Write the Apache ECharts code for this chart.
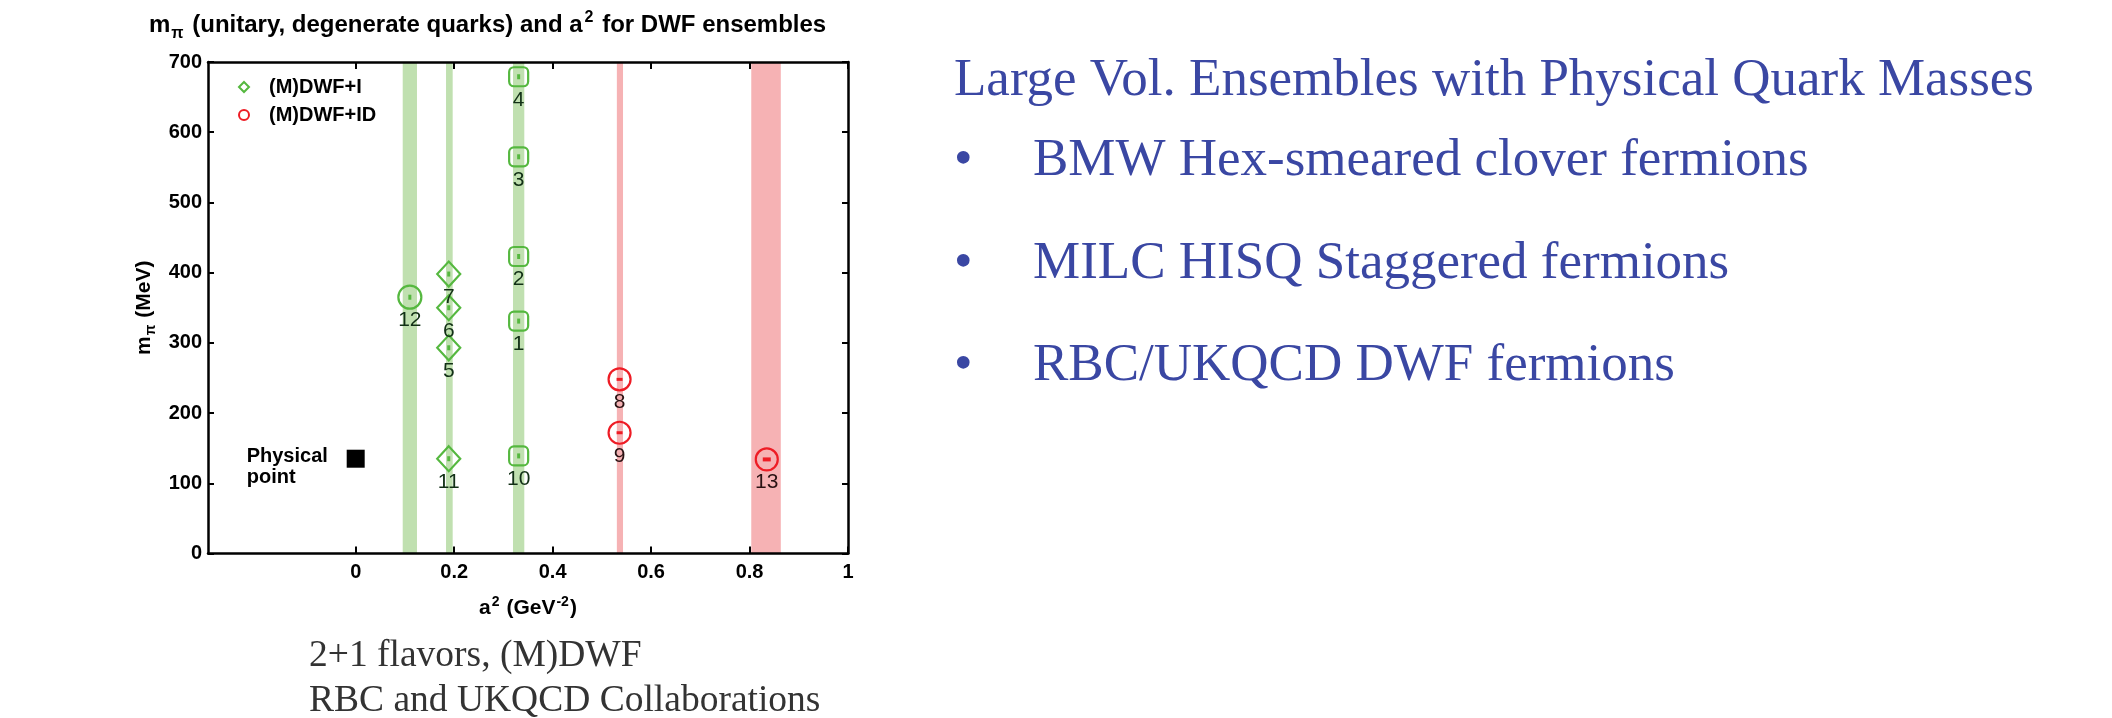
<!DOCTYPE html>
<html><head><meta charset="utf-8">
<script src="https://cdn.jsdelivr.net/npm/echarts@6/dist/echarts.min.js"></script>
<style>html,body{margin:0;padding:0;background:#fff}#c{width:2112px;height:718px}</style>
</head><body><div id="c"></div>
<script>
// ---------------- data ----------------
const xTicks = [0, 0.2, 0.4, 0.6, 0.8, 1];
const yTicks = [0, 100, 200, 300, 400, 500, 600, 700];

// (M)DWF+I ensembles
const sqIds = ['1', '2', '3', '4', '10'];
const sqA2  = [0.331, 0.331, 0.331, 0.331, 0.331];
const sqMpi = [331, 423, 565, 679, 139];

const dmIds = ['5', '6', '7', '11'];
const dmA2  = [0.189, 0.189, 0.189, 0.189];
const dmMpi = [293, 350, 398, 135];

const ciIds = ['12'];
const ciA2  = [0.110];
const ciMpi = [365];

// (M)DWF+ID ensembles
const idIds = ['8', '9', '13'];
const idA2  = [0.536, 0.536, 0.835];
const idMpi = [248, 172, 134];

// physical point
const physA2  = [0];
const physMpi = [135];

// a^2 uncertainty bands
const greenBandLo = [0.0955, 0.1835, 0.3195];
const greenBandHi = [0.1245, 0.1970, 0.3425];
const redBandLo   = [0.5305, 0.8035];
const redBandHi   = [0.5430, 0.8635];

// text
const titleText = '{a|m}{s|π}{a| (unitary, degenerate quarks) and a}{p|2}{a| for DWF ensembles}';
const heading = 'Large Vol. Ensembles with Physical Quark Masses';
const bullets = ['BMW Hex-smeared clover fermions', 'MILC HISQ Staggered fermions', 'RBC/UKQCD DWF fermions'];
const caption = ['2+1 flavors, (M)DWF', 'RBC and UKQCD Collaborations'];

// ---------------- style ----------------
const SANS = '"Liberation Sans", Arial, Helvetica, sans-serif';
const SERIF = '"Liberation Serif", "Times New Roman", serif';
const G = '#55b83f', GBAND = '#c0e0b0', GTXT = '#123016';
const R = '#ee1c25', RBAND = '#f6b2b4', RTXT = '#2a1213';
const BLUE = '#3a47a3';

const zip = (xs, ys, ids) => xs.map((x, i) => [x, ys[i], ids ? ids[i] : '']);

const hollow = c => ({ color: 'rgba(0,0,0,0)', borderColor: c, borderWidth: 2.2, opacity: 1 });
const idLabel = c => ({ show: true, position: 'inside', offset: [0, 23], formatter: p => p.value[2],
  fontFamily: SANS, fontSize: 21, color: c });

const bandData = [];
greenBandLo.forEach((lo, i) => bandData.push([{ xAxis: lo, itemStyle: { color: GBAND, opacity: 1 } }, { xAxis: greenBandHi[i] }]));
redBandLo.forEach((lo, i) => bandData.push([{ xAxis: lo, itemStyle: { color: RBAND, opacity: 1 } }, { xAxis: redBandHi[i] }]));

const axisCommon = {
  type: 'value', splitLine: { show: false },
  axisLine: { show: true, onZero: false, lineStyle: { color: '#000', width: 2.5 } },
  z: 10
};

const chart = echarts.init(document.getElementById('c'), null, { renderer: 'canvas' });
chart.setOption({
  animation: false,
  backgroundColor: '#fff',
  title: {
    text: titleText, left: 149, top: 9, padding: 0,
    textStyle: { rich: {
      a: { fontFamily: SANS, fontSize: 24, fontWeight: 'bold', color: '#000' },
      s: { fontFamily: SANS, fontSize: 16, fontWeight: 'bold', color: '#000', padding: [17, 2, 0, 1] },
      p: { fontFamily: SANS, fontSize: 16, fontWeight: 'bold', color: '#000', padding: [0, 2, 15, 2] }
    } }
  },
  grid: { left: 208, right: 1264, top: 62, bottom: 164.5, containLabel: false, outerBoundsMode: 'none' },
  legend: {
    data: [{ name: '(M)DWF+I', icon: 'diamond' }, { name: '(M)DWF+ID', icon: 'circle' }],
    orient: 'vertical', left: 238, top: 77, padding: 0, itemWidth: 10, itemHeight: 10, itemGap: 8,
    selectedMode: false,
    textStyle: { fontFamily: SANS, fontWeight: 'bold', fontSize: 20, color: '#000', padding: [0, 0, 0, 15], lineHeight: 20 }
  },
  xAxis: [
    Object.assign({}, axisCommon, {
      position: 'bottom', min: -0.3, max: 1,
      axisTick: { show: true, inside: true, length: 7, lineStyle: { color: '#000', width: 2 }, customValues: xTicks },
      axisLabel: { show: true, customValues: xTicks, margin: 9, fontFamily: SANS, fontWeight: 'bold', fontSize: 20, color: '#000',
        formatter: v => String(+v.toFixed(1)) },
      name: '{a|a}{p|2}{a| (GeV}{p|-2}{a|)}', nameLocation: 'middle', nameGap: 42,
      nameTextStyle: { rich: {
        a: { fontFamily: SANS, fontSize: 21, fontWeight: 'bold', color: '#000' },
        p: { fontFamily: SANS, fontSize: 14, fontWeight: 'bold', color: '#000', padding: [0, 1, 12, 1] }
      } }
    }),
    Object.assign({}, axisCommon, {
      position: 'top', min: -0.3, max: 1,
      axisTick: { show: true, inside: true, length: 7, lineStyle: { color: '#000', width: 2 }, customValues: xTicks },
      axisLabel: { show: false }
    })
  ],
  yAxis: [
    Object.assign({}, axisCommon, {
      position: 'left', min: 0, max: 700, interval: 100,
      axisTick: { show: true, inside: true, length: 6, lineStyle: { color: '#000', width: 2 } },
      axisLabel: { show: true, margin: 6, fontFamily: SANS, fontWeight: 'bold', fontSize: 20, color: '#000' },
      name: '{a|m}{s|π}{a| (MeV)}', nameLocation: 'middle', nameRotate: 90, nameGap: 50,
      nameTextStyle: { rich: {
        a: { fontFamily: SANS, fontSize: 21, fontWeight: 'bold', color: '#000' },
        s: { fontFamily: SANS, fontSize: 14, fontWeight: 'bold', color: '#000', padding: [14, 1, 0, 1] }
      } }
    }),
    Object.assign({}, axisCommon, {
      position: 'right', min: 0, max: 700, interval: 100,
      axisTick: { show: true, inside: true, length: 6, lineStyle: { color: '#000', width: 2 } },
      axisLabel: { show: false }
    })
  ],
  series: [
    { type: 'scatter', name: 'bands', data: [], z: 1, silent: true,
      markArea: { silent: true, label: { show: false }, data: bandData } },
    { type: 'scatter', name: '(M)DWF+I', symbol: 'diamond', symbolSize: [23, 25], z: 3,
      itemStyle: hollow(G), label: idLabel(GTXT), data: zip(dmA2, dmMpi, dmIds) },
    { type: 'scatter', name: '(M)DWF+I', symbol: 'roundRect', symbolSize: 19, z: 3,
      itemStyle: hollow(G), label: idLabel(GTXT), data: zip(sqA2, sqMpi, sqIds) },
    { type: 'scatter', name: '(M)DWF+I', symbol: 'circle', symbolSize: 23, z: 3,
      itemStyle: hollow(G), label: idLabel(GTXT), data: zip(ciA2, ciMpi, ciIds) },
    { type: 'scatter', name: '(M)DWF+ID', symbol: 'circle', symbolSize: 22, z: 3,
      itemStyle: hollow(R), label: idLabel(RTXT), data: zip(idA2, idMpi, idIds) },
    { type: 'scatter', name: 'errG', symbol: 'rect', symbolSize: [3, 5], z: 4, itemStyle: { color: G, opacity: 1 },
      data: zip(dmA2.concat(sqA2, ciA2), dmMpi.concat(sqMpi, ciMpi)) },
    { type: 'scatter', name: 'errR', symbol: 'rect', symbolSize: (v, p) => p.dataIndex === 2 ? [8, 4] : [6, 3], z: 4,
      itemStyle: { color: R, opacity: 1 }, data: zip(idA2, idMpi) },
    { type: 'scatter', name: 'Physical point', symbol: 'rect', symbolSize: 18, z: 3,
      itemStyle: { color: '#000', opacity: 1 },
      label: { show: true, position: 'inside', align: 'left', offset: [-109, 8], formatter: 'Physical\npoint',
        fontFamily: SANS, fontWeight: 'bold', fontSize: 20, lineHeight: 21, color: '#000' },
      data: zip(physA2, physMpi) }
  ],
  graphic: [
    { type: 'text', x: 954, y: 81, style: { text: heading, font: '53px ' + SERIF, fill: BLUE, verticalAlign: 'middle' } },
    ...bullets.flatMap((b, i) => [
      { type: 'text', x: 954, y: [161, 264, 366][i], style: { text: '•', font: '53px ' + SERIF, fill: BLUE, verticalAlign: 'middle' } },
      { type: 'text', x: 1033, y: [161, 264, 366][i], style: { text: b, font: '53px ' + SERIF, fill: BLUE, verticalAlign: 'middle' } }
    ]),
    ...caption.map((t, i) => ({ type: 'text', x: 309, y: [656, 701][i],
      style: { text: t, font: '37.5px ' + SERIF, fill: '#333', verticalAlign: 'middle' } }))
  ]
});
</script>
</body></html>
